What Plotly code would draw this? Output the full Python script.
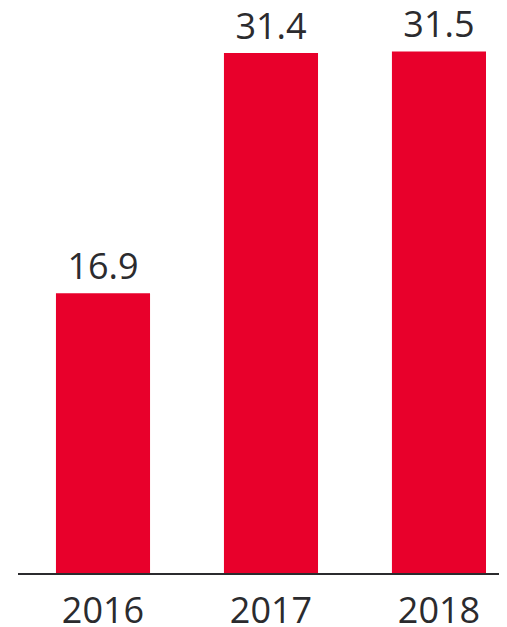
import plotly.graph_objects as go

years = ["2016", "2017", "2018"]
values = [16.9, 31.4, 31.5]
labels = ["16.9", "31.4", "31.5"]

text_color = "#2b2b2e"
bar_color = "#E8002B"

fig = go.Figure(go.Bar(
    x=years, y=values, text=labels, textposition="outside",
    marker=dict(color=bar_color, line=dict(width=0)),
    width=0.56, cliponaxis=False,
    textfont=dict(family="Open Sans", size=36, color=text_color),
))
fig.update_layout(
    width=499, height=619,
    margin=dict(l=10, r=0, t=0, b=54, autoexpand=False),
    paper_bgcolor="white", plot_bgcolor="white",
    showlegend=False,
    font=dict(family="Open Sans", size=36, color=text_color),
    xaxis=dict(range=[-0.506, 2.405], showline=True, linecolor=text_color, linewidth=2,
               showgrid=False, zeroline=False, ticks="", automargin=False,
               ticklabelstandoff=5,
               tickfont=dict(size=36, color=text_color)),
    yaxis=dict(range=[0, 34.12], visible=False, showgrid=False, zeroline=False,
               automargin=False),
)
fig.write_html("out.html")
